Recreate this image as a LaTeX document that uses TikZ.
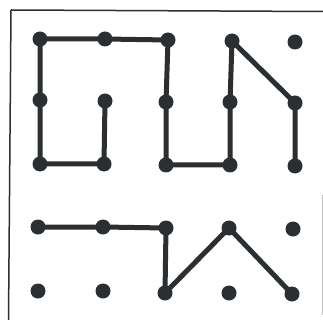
\documentclass[tikz,border=0pt]{standalone}
\begin{document}
\begin{tikzpicture}[x=1pt,y=-1pt,
  dot/.style={circle,fill=dotc,inner sep=0pt,minimum size=15pt},
  seg/.style={draw=dotc,line width=5pt,line cap=round,line join=round}]
\definecolor{dotc}{HTML}{2B2F31}
\useasboundingbox (0,0) rectangle (323,320);
\fill[white] (0,0) rectangle (323,320);
% frame
\draw[line width=1.5pt,dotc] (11,10) -- (323,11.5);
\draw[line width=1.5pt,dotc] (11,10) -- (8.5,320);
\draw[line width=1pt,gray!50] (322.5,195) -- (322.5,315);
% dots
\node[dot] (a1) at (40,39) {};
\node[dot] (a2) at (105,39) {};
\node[dot] (a3) at (168,40) {};
\node[dot] (a4) at (232,41) {};
\node[dot] (a5) at (295,42) {};
\node[dot] (b1) at (40,100) {};
\node[dot] (b2) at (105,101) {};
\node[dot] (b3) at (166,102) {};
\node[dot] (b4) at (230,102) {};
\node[dot] (b5) at (295,103) {};
\node[dot] (c1) at (40,164) {};
\node[dot] (c2) at (104,164) {};
\node[dot] (c3) at (166,165) {};
\node[dot] (c4) at (230,165) {};
\node[dot] (c5) at (295,166) {};
\node[dot] (d1) at (38,227) {};
\node[dot] (d2) at (103,227) {};
\node[dot] (d3) at (166,228) {};
\node[dot] (d4) at (229,228) {};
\node[dot] (d5) at (293,229) {};
\node[dot] (e1) at (38,291) {};
\node[dot] (e2) at (103,291) {};
\node[dot] (e3) at (165,293) {};
\node[dot] (e4) at (229,293) {};
\node[dot] (e5) at (292,294) {};
% connectors
\draw[seg] (a1.center) -- (a2.center) -- (a3.center);
\draw[seg] (a1.center) -- (b1.center) -- (c1.center) -- (c2.center) -- (b2.center);
\draw[seg] (a3.center) -- (b3.center) -- (c3.center) -- (c4.center) -- (b4.center) -- (a4.center) -- (b5.center) -- (c5.center);
\draw[seg] (d1.center) -- (d2.center) -- (d3.center) -- (e3.center) -- (d4.center) -- (e5.center);
\end{tikzpicture}
\end{document}
